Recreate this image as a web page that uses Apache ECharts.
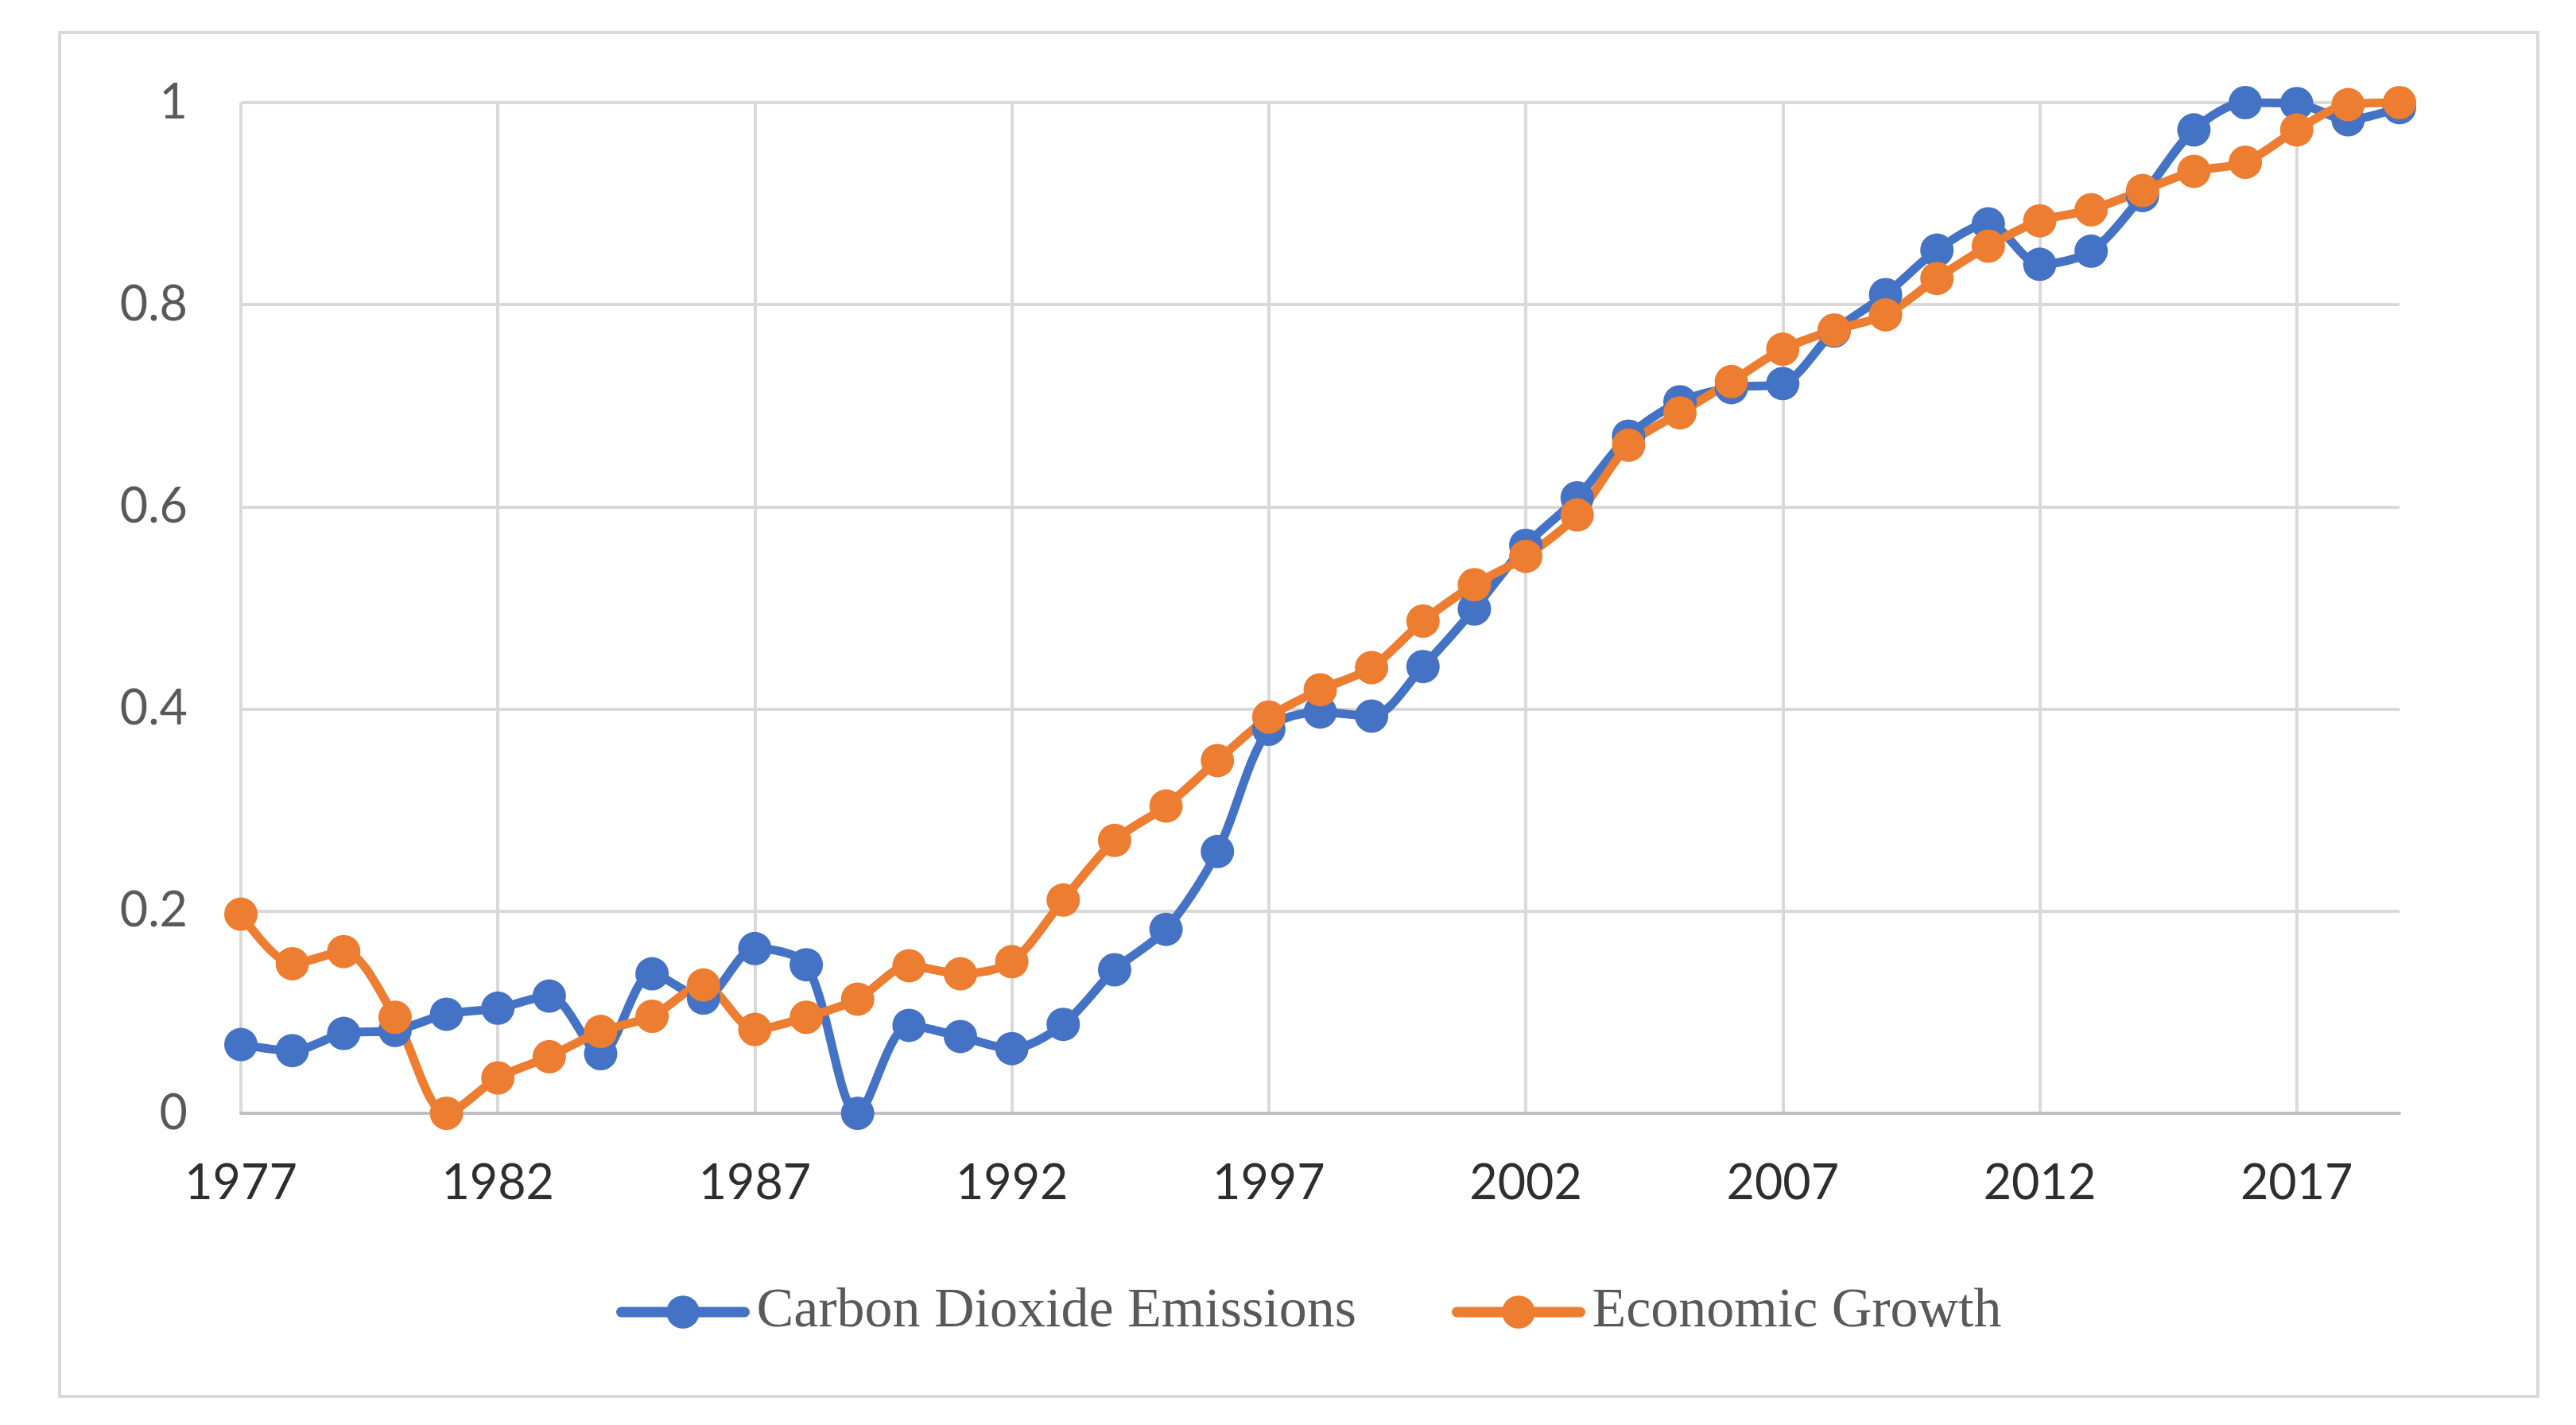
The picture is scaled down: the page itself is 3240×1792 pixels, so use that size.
<!DOCTYPE html>
<html>
<head>
<meta charset="utf-8">
<script src="https://cdn.jsdelivr.net/npm/echarts@6/dist/echarts.min.js"></script>
<style>
html,body{margin:0;padding:0;background:#fff;}
#chart{width:3240px;height:1792px;}
</style>
</head>
<body>
<div id="chart"></div>
<script>
const years = [];
for (let y = 1977; y <= 2019; y++) years.push(String(y));

const co2Emissions = [
  0.068, 0.062, 0.079, 0.082, 0.098, 0.104, 0.116, 0.059, 0.138, 0.114,
  0.163, 0.147, 0.000, 0.087, 0.076, 0.064, 0.088, 0.142, 0.182, 0.259,
  0.380, 0.397, 0.393, 0.442, 0.499, 0.562, 0.609, 0.670, 0.704, 0.718,
  0.722, 0.774, 0.810, 0.854, 0.880, 0.840, 0.853, 0.908, 0.973, 1.000,
  0.999, 0.983, 0.995
];
const economicGrowth = [
  0.197, 0.148, 0.160, 0.095, 0.000, 0.035, 0.056, 0.081, 0.096, 0.127,
  0.083, 0.095, 0.113, 0.146, 0.138, 0.150, 0.211, 0.270, 0.304, 0.349,
  0.392, 0.419, 0.441, 0.487, 0.523, 0.551, 0.592, 0.661, 0.693, 0.724,
  0.756, 0.775, 0.790, 0.826, 0.858, 0.883, 0.894, 0.913, 0.932, 0.941,
  0.973, 0.998, 1.000
];
const yTicks = [0, 0.2, 0.4, 0.6, 0.8, 1];

const chart = echarts.init(document.getElementById('chart'), null, {renderer: 'canvas'});
chart.setOption({
  backgroundColor: '#ffffff',
  animation: false,
  graphic: [{
    type: 'rect',
    shape: {x: 75, y: 41, width: 3117, height: 1715},
    style: {fill: 'none', stroke: '#d9d9d9', lineWidth: 4},
    silent: true
  }],
  grid: {left: 303, top: 129, width: 2715, height: 1271},
  legend: {
    left: 770,
    top: 1610,
    itemWidth: 155,
    itemHeight: 52,
    itemGap: 120,
    lineStyle: {width: 13, cap: 'round'},
    textStyle: {fontFamily: '"Liberation Serif", "Times New Roman", serif', fontSize: 70, color: '#595959', padding: [0, 0, 0, 10]},
    data: ['Carbon Dioxide Emissions', 'Economic Growth']
  },
  xAxis: {
    type: 'category',
    data: years,
    boundaryGap: false,
    axisLine: {show: true, lineStyle: {color: '#bfbfbf', width: 4}},
    axisTick: {show: false},
    axisLabel: {interval: 4, margin: 58, fontFamily: 'Lato, "Open Sans", sans-serif', fontSize: 61, color: '#2e2e2e'},
    splitLine: {show: true, interval: 4, lineStyle: {color: '#d9d9d9', width: 4}}
  },
  yAxis: {
    type: 'value',
    min: yTicks[0],
    max: yTicks[yTicks.length - 1],
    interval: 0.2,
    axisLine: {show: false},
    axisTick: {show: false},
    axisLabel: {margin: 67, fontFamily: 'Lato, "Open Sans", sans-serif', fontSize: 61, color: '#595959',
      formatter: v => String(Math.round(v * 10) / 10)},
    splitLine: {show: true, lineStyle: {color: '#d9d9d9', width: 4}}
  },
  series: [
    {
      name: 'Carbon Dioxide Emissions',
      type: 'line',
      data: co2Emissions,
      smooth: 0.3,
      symbol: 'circle',
      symbolSize: 42,
      showAllSymbol: true,
      color: '#4472c4',
      lineStyle: {color: '#4472c4', width: 11},
      itemStyle: {color: '#4472c4'}
    },
    {
      name: 'Economic Growth',
      type: 'line',
      data: economicGrowth,
      smooth: 0.3,
      symbol: 'circle',
      symbolSize: 42,
      showAllSymbol: true,
      color: '#ed7d31',
      lineStyle: {color: '#ed7d31', width: 11},
      itemStyle: {color: '#ed7d31'}
    }
  ]
});
</script>
</body>
</html>
